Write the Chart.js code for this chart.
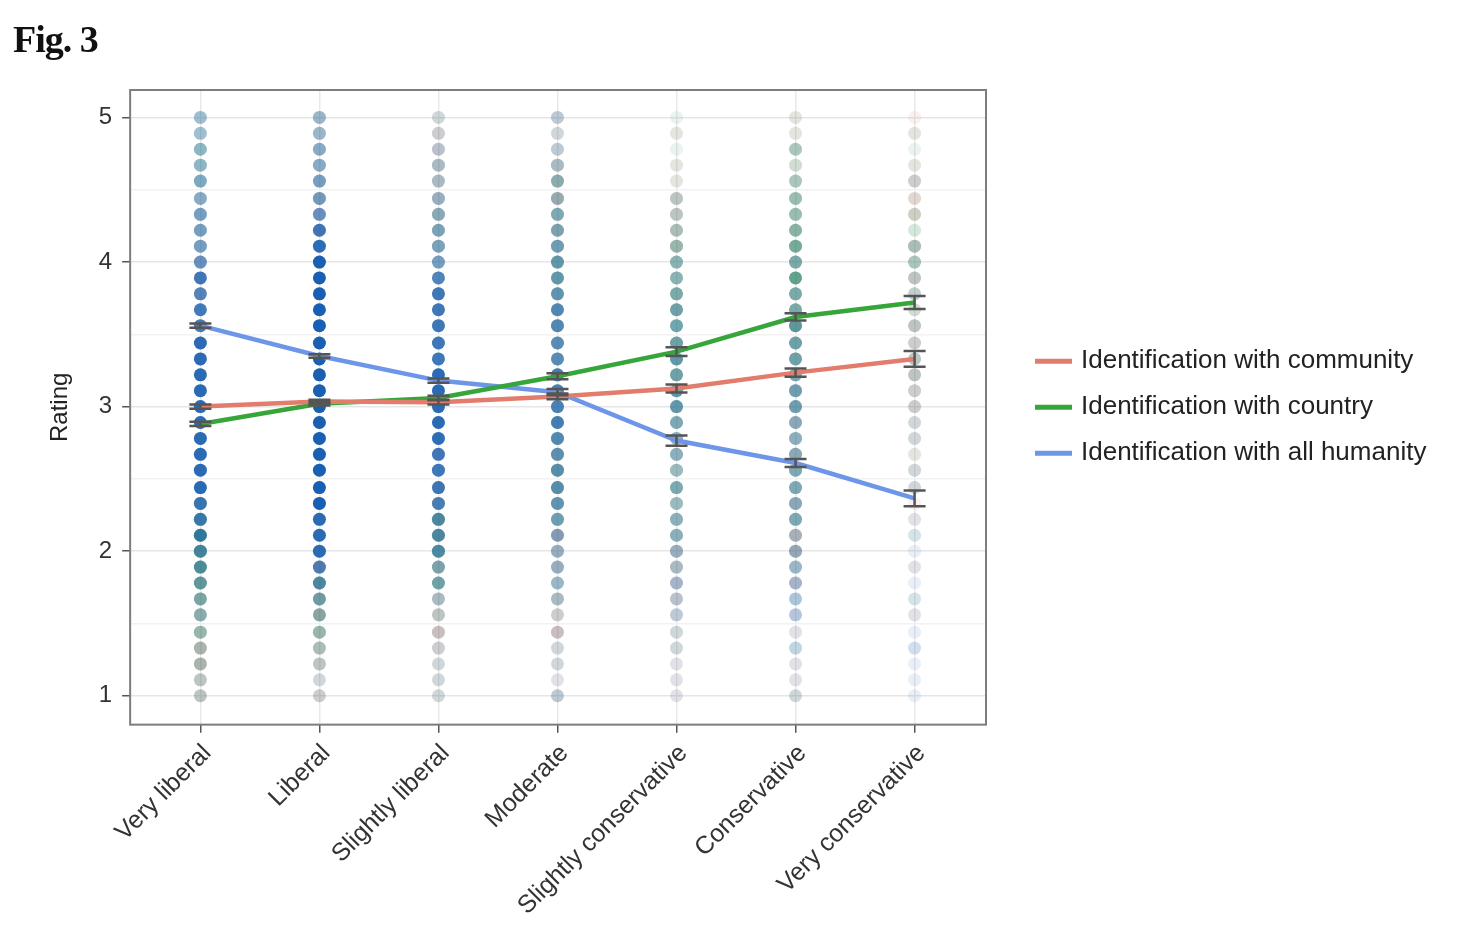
<!DOCTYPE html>
<html>
<head>
<meta charset="utf-8">
<script src="https://cdn.jsdelivr.net/npm/chart.js@4.4.1/dist/chart.umd.min.js"></script>
<style>
  body { margin: 0; background: #fff; }
  #wrap { position: relative; width: 1457px; height: 932px; }
  #fig { position: absolute; left: 13px; top: 17px; font: bold 38px "Liberation Serif"; color: #111; letter-spacing: -1px; }
</style>
</head>
<body>
<div id="wrap">
  <div id="fig">Fig. 3</div>
  <canvas id="chart" width="1457" height="932"></canvas>
</div>
<script>
const categories = ['Very liberal', 'Liberal', 'Slightly liberal', 'Moderate', 'Slightly conservative', 'Conservative', 'Very conservative'];

// response levels of the rating scale, bottom to top
const ratingLevels = [1, 1.11, 1.22, 1.33, 1.44, 1.56, 1.67, 1.78, 1.89,
                      2, 2.11, 2.22, 2.33, 2.44, 2.56, 2.67, 2.78, 2.89,
                      3, 3.11, 3.22, 3.33, 3.44, 3.56, 3.67, 3.78, 3.89,
                      4, 4.11, 4.22, 4.33, 4.44, 4.56, 4.67, 4.78, 4.89, 5];

// means and standard errors per category
const communityMean = [3.00, 3.035, 3.03, 3.07, 3.125, 3.235, 3.33];
const countryMean   = [2.88, 3.02, 3.06, 3.21, 3.38, 3.62, 3.72];
const humanityMean  = [3.56, 3.35, 3.18, 3.10, 2.765, 2.61, 2.365];
const communitySE = [0.015, 0.012, 0.015, 0.02, 0.028, 0.028, 0.055];
const countrySE   = [0.015, 0.012, 0.015, 0.02, 0.03, 0.025, 0.045];
const humanitySE  = [0.015, 0.012, 0.015, 0.022, 0.035, 0.028, 0.055];

// share of respondents at each level (tenths), one row per category
const communityDots = [
  [2,2,3,3,2,2,2,2,1,1,1,1,1,1,1,1,1,1,1,1,1,1,1,1,1,2,2,2,1,1,1,1,0,0,0,0,0],
  [2,1,2,2,2,3,2,2,4,1,1,1,1,1,1,1,1,1,1,1,1,1,1,1,1,1,1,1,1,3,2,2,1,1,1,1,1],
  [1,1,1,2,3,2,2,1,2,1,2,2,2,2,1,2,1,1,1,1,1,1,1,1,1,1,1,1,1,1,2,2,2,2,2,2,1],
  [1,1,1,1,3,2,2,1,2,2,3,1,1,1,1,2,1,1,1,1,1,1,1,1,1,1,1,1,1,2,1,3,2,2,1,1,1],
  [1,1,1,1,1,1,2,2,2,2,1,1,1,1,1,1,1,1,1,1,1,1,1,0,1,1,1,1,2,2,2,2,1,1,0,1,0],
  [1,1,1,0,1,1,0,2,1,3,3,1,2,1,1,2,1,2,1,1,1,1,1,2,1,1,1,1,1,1,1,1,1,1,1,1,1],
  [0,0,0,0,0,1,0,0,1,0,0,1,1,1,1,1,1,1,2,2,2,2,2,2,1,1,2,1,2,0,2,2,2,1,0,1,1]
];
const countryDots = [
  [2,2,3,3,4,4,5,6,7,7,8,6,4,3,2,2,2,2,2,2,2,2,2,1,1,1,1,1,2,2,2,2,3,3,3,2,2],
  [1,1,2,3,4,4,5,6,2,2,2,2,1,1,1,1,1,1,1,1,1,1,1,1,1,1,1,1,1,1,1,2,2,2,2,2,2],
  [1,1,1,1,1,2,2,5,4,6,6,6,3,2,2,1,1,2,2,2,2,2,2,2,2,2,2,2,3,3,3,2,2,2,1,1,1],
  [1,0,1,1,1,1,2,2,2,2,2,4,4,5,5,4,4,4,3,3,4,3,3,4,4,4,5,5,4,4,4,3,4,2,1,1,1],
  [0,0,0,1,1,1,1,1,2,2,3,3,3,4,3,3,3,4,5,5,5,5,5,5,5,5,4,4,4,3,2,2,1,1,1,1,1],
  [1,0,0,1,0,0,1,1,2,2,2,4,3,4,4,3,3,3,4,4,4,5,5,6,5,5,7,5,6,5,4,4,3,2,3,1,1],
  [0,0,0,0,0,0,1,0,0,0,1,0,0,1,1,1,1,1,1,1,2,2,1,2,2,2,2,3,3,2,2,1,1,1,1,1,0]
];
const humanityDots = [
  [1,1,1,1,1,2,2,3,4,5,6,7,8,9,9,9,9,9,9,9,9,9,9,8,8,7,8,6,5,5,5,4,4,3,3,3,3],
  [1,1,1,1,1,2,3,5,7,9,9,9,10,10,10,10,10,10,10,10,10,10,10,10,10,10,10,10,9,8,6,5,5,4,4,3,3],
  [1,1,1,1,1,1,2,3,3,5,5,5,7,8,8,8,9,9,9,9,9,8,8,8,8,8,7,5,4,4,3,3,2,2,2,1,1],
  [2,1,1,1,1,1,2,3,3,3,4,4,5,5,5,5,6,7,7,7,7,6,6,6,6,5,4,4,4,3,3,2,2,2,2,1,2],
  [1,1,1,1,1,2,2,3,2,3,3,3,2,3,2,3,3,3,4,4,3,4,3,3,3,2,2,2,1,1,1,1,0,0,0,0,0],
  [1,1,1,2,1,3,3,3,3,3,2,3,3,3,3,3,3,3,4,4,3,3,3,3,2,2,1,2,1,1,1,1,1,0,1,0,0],
  [1,1,1,2,1,1,1,1,1,1,1,1,0,1,1,0,1,1,1,1,1,1,1,1,0,1,1,1,1,0,0,0,1,0,0,0,0]
];

const seriesNames = ['Identification with community', 'Identification with country', 'Identification with all humanity'];
const lineColors = ['#e27c6c', '#36a53a', '#6e96e8'];
const dotBase = ['210,105,100', '45,140,90', '25,95,178'];

function dotPoints() {
  const pts = [];
  categories.forEach((c, i) => ratingLevels.forEach(v => pts.push({x: i, y: v})));
  return pts;
}
function dotColors(base, shares) {
  return shares.flatMap(col => col.map(s => `rgba(${base},${s / 10})`));
}
function meanPoints(means) {
  return means.map((m, i) => ({x: i, y: m}));
}

const means = [communityMean, countryMean, humanityMean];
const errors = [communitySE, countrySE, humanitySE];
const dots = [communityDots, countryDots, humanityDots];

const datasets = [];
means.forEach((m, k) => {
  datasets.push({
    label: seriesNames[k],
    data: meanPoints(m),
    showLine: true,
    borderColor: lineColors[k],
    backgroundColor: lineColors[k],
    borderWidth: 4.5,
    pointRadius: 0,
    order: 0
  });
});
dots.forEach((d, k) => {
  datasets.push({
    label: 'dots ' + k,
    data: dotPoints(),
    backgroundColor: dotColors(dotBase[k], d),
    borderWidth: 0,
    pointRadius: 6.5,
    order: 3 - k
  });
});

const errorBars = {
  id: 'errorBars',
  afterDatasetsDraw(chart) {
    const {ctx, scales: {x, y}} = chart;
    ctx.save();
    ctx.strokeStyle = '#555';
    ctx.lineWidth = 2.5;
    means.forEach((m, k) => {
      m.forEach((v, i) => {
        const px = x.getPixelForValue(i);
        const top = y.getPixelForValue(v + errors[k][i]);
        const bot = y.getPixelForValue(v - errors[k][i]);
        ctx.beginPath();
        ctx.moveTo(px, top); ctx.lineTo(px, bot);
        ctx.moveTo(px - 11, top); ctx.lineTo(px + 11, top);
        ctx.moveTo(px - 11, bot); ctx.lineTo(px + 11, bot);
        ctx.stroke();
      });
    });
    ctx.restore();
  }
};

const frameAndLegend = {
  id: 'frameAndLegend',
  afterDraw(chart) {
    const {ctx, chartArea: a} = chart;
    ctx.save();
    ctx.strokeStyle = '#7d7d7d';
    ctx.lineWidth = 2;
    ctx.strokeRect(a.left, a.top, a.right - a.left, a.bottom - a.top);

    // legend
    const midY = (a.top + a.bottom) / 2;
    ctx.font = '26px "Liberation Sans", Arial, sans-serif';
    ctx.textBaseline = 'middle';
    ctx.fillStyle = '#222';
    seriesNames.forEach((name, k) => {
      const yy = midY + (k - 1) * 46;
      const x0 = a.right + 49;
      ctx.strokeStyle = lineColors[k];
      ctx.lineWidth = 5;
      ctx.beginPath();
      ctx.moveTo(x0, yy); ctx.lineTo(x0 + 37, yy);
      ctx.stroke();
      ctx.fillText(name, x0 + 46, yy);
    });
    ctx.restore();
  }
};

new Chart(document.getElementById('chart'), {
  type: 'scatter',
  data: {datasets},
  options: {
    responsive: false,
    animation: false,
    layout: {padding: {left: 46, right: 471, top: 90, bottom: 5}},
    plugins: {legend: {display: false}, tooltip: {enabled: false}},
    scales: {
      x: {
        type: 'linear',
        min: -0.59,
        max: 6.6,
        afterBuildTicks: axis => { axis.ticks = categories.map((c, i) => ({value: i})); },
        ticks: {
          callback: v => categories[v],
          minRotation: 45,
          maxRotation: 45,
          padding: 6,
          labelOffset: 7,
          color: '#333',
          font: {family: '"Liberation Sans", Arial, sans-serif', size: 25}
        },
        grid: {color: '#e9e9e9', lineWidth: 1.5, tickColor: '#555', tickLength: 8},
        border: {display: false}
      },
      y: {
        min: 0.8,
        max: 5.19,
        afterBuildTicks: axis => {
          axis.ticks = [1, 1.5, 2, 2.5, 3, 3.5, 4, 4.5, 5].map(v => ({value: v}));
        },
        ticks: {
          callback: v => (v % 1 === 0 ? String(v) : ''),
          padding: 10,
          color: '#333',
          font: {family: '"Liberation Sans", Arial, sans-serif', size: 24}
        },
        grid: {
          color: c => (c.tick && c.tick.value % 1 === 0 ? '#e6e6e6' : '#f2f2f2'),
          lineWidth: 1.5,
          tickColor: c => (c.tick && c.tick.value % 1 === 0 ? '#555' : 'rgba(0,0,0,0)'),
          tickLength: 8
        },
        border: {display: false},
        title: {
          display: true,
          text: 'Rating',
          color: '#222',
          padding: {top: 0, bottom: 14},
          font: {family: '"Liberation Sans", Arial, sans-serif', size: 24}
        }
      }
    }
  },
  plugins: [errorBars, frameAndLegend]
});
</script>
</body>
</html>
